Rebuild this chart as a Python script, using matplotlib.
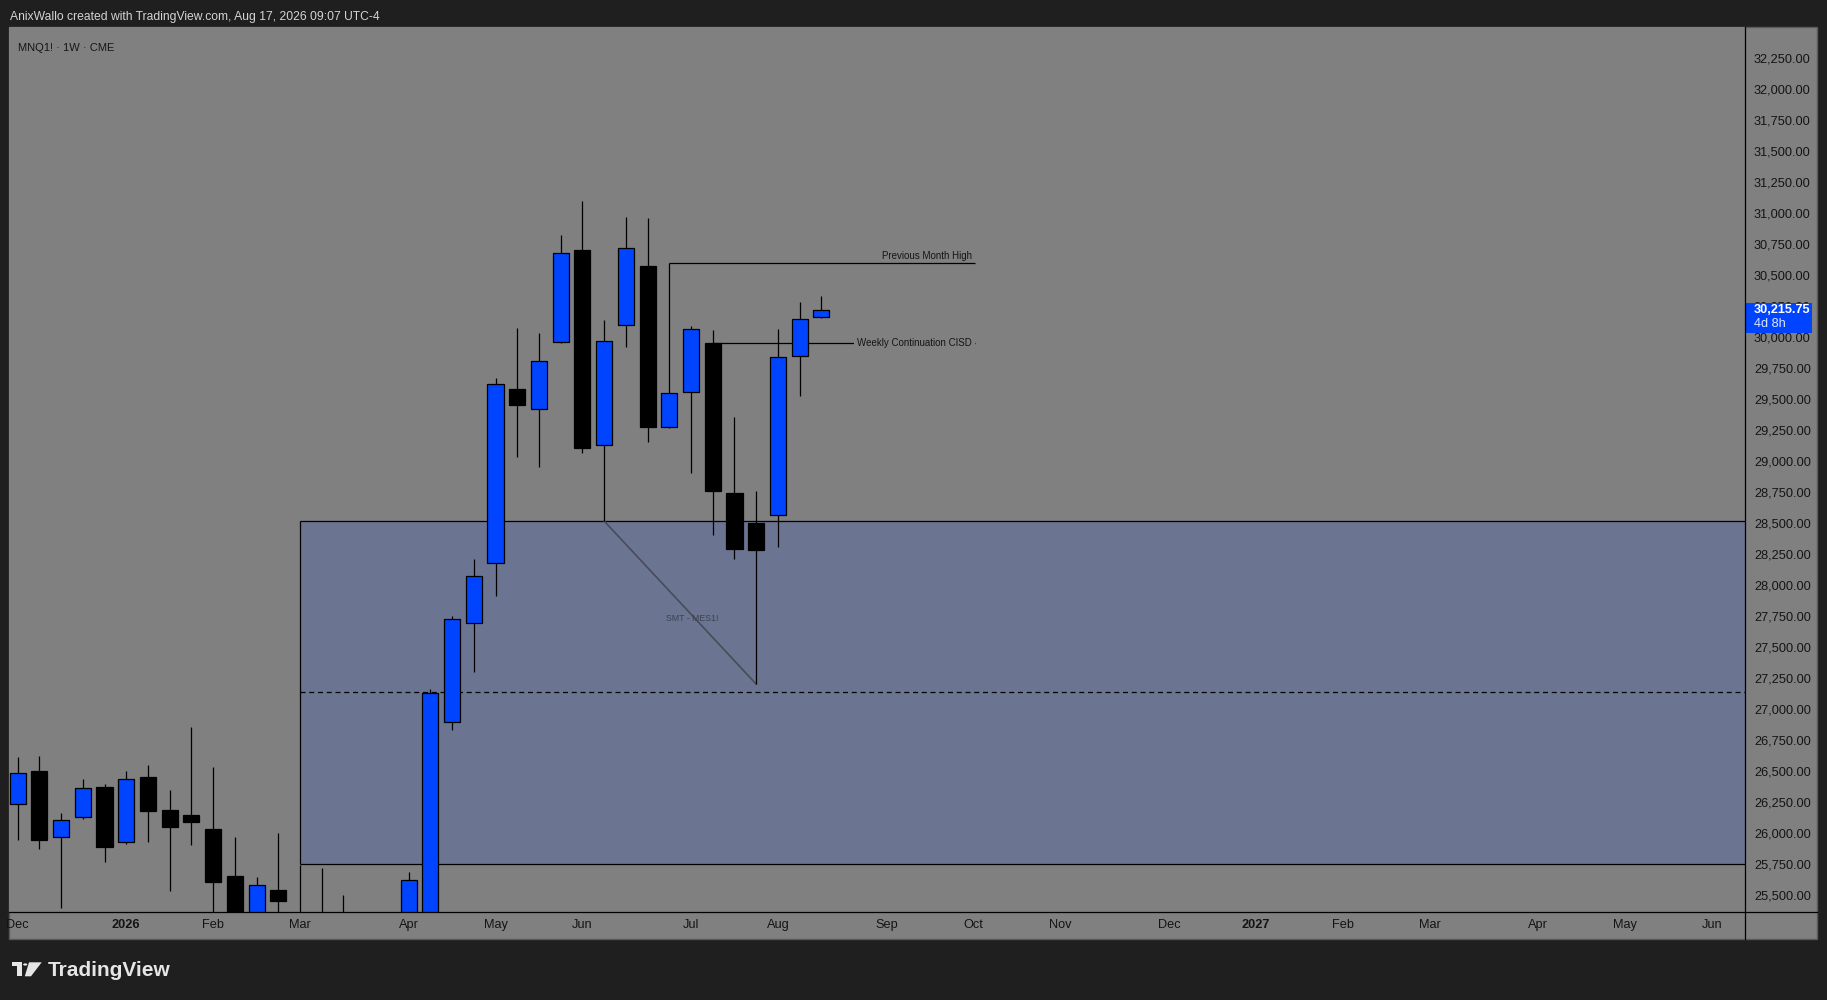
import matplotlib
matplotlib.use('Agg')
import matplotlib.pyplot as plt
import matplotlib.transforms as mtransforms
from matplotlib.patches import Rectangle, Polygon, Circle
from matplotlib.lines import Line2D
import numpy as np

plt.rcParams['font.family'] = ['Liberation Sans', 'DejaVu Sans']

# weekly MNQ1! candles, week of 2025-12-01 -> week of 2026-08-17
opens = [26231, 26499, 25965, 26131, 26370, 25930, 26451, 26185, 26145, 26032,
         25653, 25300, 25538, 25300, 25250, 25250, 25200, 25200, 25250, 25300,
         26893, 27689, 28173, 29577, 29415, 29955, 30700, 29125, 30093, 30571,
         29270, 29552, 29947, 28738, 28496, 28561, 29843, 30157]
highs = [26615, 26620, 26161, 26435, 26395, 26499, 26548, 26346, 26854, 26532,
         25967, 25645, 26000, 25745, 25715, 25500, 25300, 25300, 25685, 27164,
         27749, 28208, 29667, 30071, 30031, 30821, 31095, 30135, 30966, 30958,
         30592, 30087, 30055, 29354, 28754, 30063, 30281, 30329]
lows = [25943, 25871, 25398, 26115, 25766, 25911, 25927, 25532, 25906, 25250,
        25200, 25200, 25250, 25100, 25100, 25100, 25000, 25000, 25100, 25200,
        26827, 27299, 27907, 29034, 28953, 29950, 29066, 28515, 29921, 29155,
        29265, 28905, 28405, 28212, 27200, 28308, 29526, 30150]
closes = [26481, 25943, 26102, 26360, 25890, 26432, 26180, 26051, 26091, 25607,
          25300, 25578, 25454, 25250, 25200, 25300, 25150, 25150, 25618, 27126,
          27722, 28068, 29616, 29453, 29802, 30673, 29106, 29963, 30713, 29276,
          29544, 30060, 28760, 28292, 28279, 29835, 30141, 30215.75]

tick_pos = [0, 5, 9, 13, 18, 22, 26, 31, 35, 40, 44, 48, 53, 57, 61, 65, 70, 74, 78]
tick_labels = ['Dec', '2026', 'Feb', 'Mar', 'Apr', 'May', 'Jun', 'Jul', 'Aug', 'Sep',
               'Oct', 'Nov', 'Dec', '2027', 'Feb', 'Mar', 'Apr', 'May', 'Jun']
price_ticks = list(range(25500, 32251, 250))

zone_start = 13
zone_top = 28515
zone_bot = 25750
pmh_start, pmh_level = 30, 30592
cisd_start, cisd_level = 32, 29947
line_end = 44.07
smt_x = [27, 34]
smt_y = [28515, 27200]
last_price = 30215.75

W, H = 1827, 1000
BLUE = '#0044ff'
GRAY = '#808080'


def fx(px):
    return px / W


def fy(py):
    return 1 - py / H


fig = plt.figure(figsize=(W / 100, H / 100), dpi=100, facecolor='#1f1f1f')

fig.patches.append(Rectangle((fx(8.5), fy(939)), fx(1817) - fx(8.5), fy(27) - fy(939),
                             transform=fig.transFigure, facecolor=GRAY,
                             edgecolor='#5a5a5a', lw=1, zorder=-5))

ax = fig.add_axes([fx(8.5), fy(912), fx(1745) - fx(8.5), fy(27) - fy(912)])
ax.set_facecolor(GRAY)
for s in ax.spines.values():
    s.set_visible(False)

# zone
ax.add_patch(Rectangle((zone_start, zone_bot), 100, zone_top - zone_bot,
                       facecolor='#6b7591', edgecolor='none', zorder=1))
ax.hlines([zone_top, zone_bot], zone_start, 100, color='black', lw=0.9, zorder=1.5)
ax.vlines(zone_start, zone_bot, zone_top, color='black', lw=0.9, zorder=1.5)
ax.hlines((zone_top + zone_bot) / 2, zone_start, 100, color='black', lw=0.9,
          linestyles=(0, (4, 3)), zorder=1.5)

# SMT
ax.plot(smt_x, smt_y, color='#484c58', lw=1.2, zorder=2)
ax.text(31.05, 27727, 'SMT - MES1!', fontsize=6.3, color='#3c4150',
        ha='center', va='center', zorder=2)

# previous month high / CISD
ax.hlines(pmh_level, pmh_start, line_end, color='black', lw=0.9, zorder=2)
ax.text(43.92, pmh_level + 37, 'Previous Month High', fontsize=7, color='#151515',
        ha='right', va='baseline', zorder=2)
ax.hlines(cisd_level, cisd_start, line_end, color='black', lw=0.9, zorder=2)
ax.text(41.29, cisd_level, 'Weekly Continuation CISD', fontsize=7, color='#151515',
        ha='center', va='center', zorder=2.2,
        bbox=dict(facecolor=GRAY, edgecolor='none', pad=2))

# candles
o = np.array(opens, dtype=float)
c = np.array(closes, dtype=float)
x = np.arange(len(o))
up = c >= o
ax.vlines(x, lows, highs, color='black', lw=0.9, zorder=3)
ax.bar(x[up], (c - o)[up], bottom=o[up], width=0.74, color=BLUE,
       edgecolor='black', lw=0.9, zorder=4)
ax.bar(x[~up], (c - o)[~up], bottom=o[~up], width=0.74, color='black',
       edgecolor='black', lw=0.9, zorder=4)

ax.set_xlim(-0.42, 79.52)
ax.set_ylim(25363, 32497)

ax.set_xticks(tick_pos, tick_labels)
ax.tick_params(axis='x', length=0, pad=5, labelsize=9.2, labelcolor='#141414')
for t in ax.get_xticklabels():
    if t.get_text() in ('2026', '2027'):
        t.set_fontweight('bold')

ax.yaxis.tick_right()
ax.set_yticks(price_ticks, [f'{v:,.2f}' for v in price_ticks])
ax.tick_params(axis='y', length=0, pad=6.5, labelsize=9.2, labelcolor='#141414')

# last price label
trans = mtransforms.blended_transform_factory(ax.transAxes, ax.transData)
ax.add_patch(Rectangle((1.0, last_price - 185), 67 / 1736.5, 241, transform=trans,
                       facecolor=BLUE, edgecolor='none', clip_on=False, zorder=10))
ax.text(1 + 9 / 1736.5, last_price, f'{last_price:,.2f}', transform=trans, color='white',
        fontsize=9.2, weight='bold', ha='left', va='center', clip_on=False, zorder=11)
ax.text(1 + 9 / 1736.5, last_price - 113, '4d 8h', transform=trans, color='#dfe6ff',
        fontsize=9.2, ha='left', va='center', clip_on=False, zorder=11)

# panel separators
fig.lines.append(Line2D([fx(8.5), fx(1817)], [fy(912), fy(912)], transform=fig.transFigure,
                        color='black', lw=0.9))
fig.lines.append(Line2D([fx(1745), fx(1745)], [fy(27), fy(939)], transform=fig.transFigure,
                        color='black', lw=0.9))

# header texts
fig.text(fx(10), fy(17.2), 'AnixWallo created with TradingView.com, Aug 17, 2026 09:07 UTC-4',
         color='#d4d4d4', fontsize=8.7, ha='left', va='center')
fig.text(fx(17.6), fy(47.8), 'MNQ1! · 1W · CME', color='#161616', fontsize=8,
         ha='left', va='center')

# footer logo
logo = '#e6e6e6'
fig.patches.append(Polygon([(fx(12.3), fy(962.3)), (fx(22.3), fy(962.3)), (fx(22.3), fy(976.3)),
                            (fx(17), fy(976.3)), (fx(17), fy(966.3)), (fx(12.3), fy(966.3))],
                           closed=True, transform=fig.transFigure, facecolor=logo, edgecolor='none'))
fig.patches.append(Circle((fx(25.2), fy(964.5)), 2.1 / W, transform=fig.transFigure,
                          facecolor=logo, edgecolor='none'))
fig.patches.append(Polygon([(fx(29), fy(962.3)), (fx(41.7), fy(962.3)), (fx(31), fy(976.3)),
                            (fx(24.8), fy(976.3))],
                           closed=True, transform=fig.transFigure, facecolor=logo, edgecolor='none'))
fig.text(fx(48), fy(970), 'TradingView', color=logo, fontsize=15, weight='bold',
         ha='left', va='center')

fig.savefig('out.png', dpi=100, facecolor=fig.get_facecolor())
